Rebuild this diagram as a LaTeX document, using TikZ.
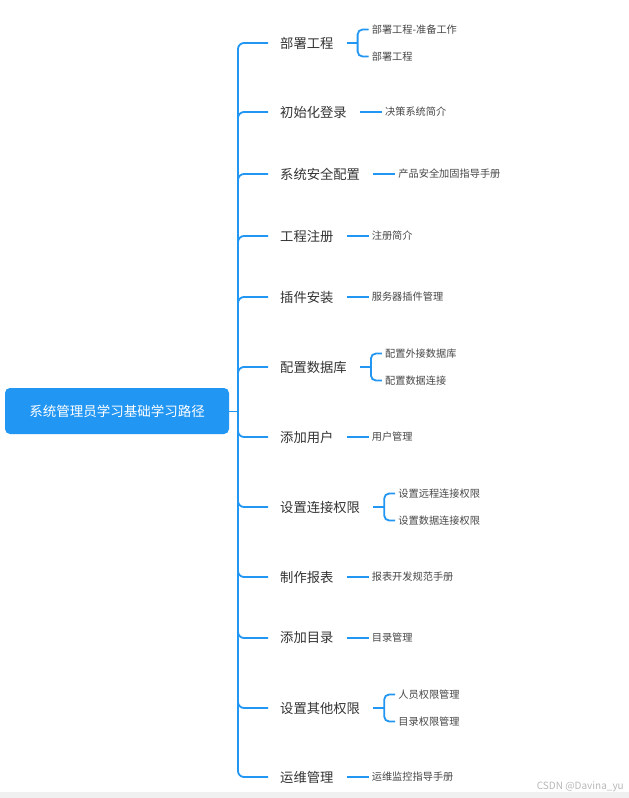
\documentclass[tikz,border=0pt]{standalone}
\usepackage{fontspec}
\newfontfamily\cjk{Noto Sans CJK SC}
\usetikzlibrary{positioning}
\definecolor{mapblue}{RGB}{33,150,243}
\definecolor{mapink}{RGB}{51,51,51}
\tikzset{
  topic/.style={anchor=west, inner sep=0pt, text=mapink, font=\cjk\fontsize{13.3}{16}\selectfont},
  leaf/.style={inner sep=0pt, text=mapink!90, font=\cjk\fontsize{10.2}{12}\selectfont},
  link/.style={draw=mapblue, line width=1.8pt, rounded corners=6pt},
}

\begin{document}
\begin{tikzpicture}[x=1pt, y=-1pt]
  \useasboundingbox (0,0) rectangle (629,798);
  \fill[white] (0,0) rectangle (629,798);
  \fill[black!6] (0,792) rectangle (629,798);
  \node[fill=mapblue, rounded corners=5pt, minimum width=224pt, minimum height=46pt, text=white, font=\cjk\fontsize{13.5}{16}\selectfont] (root) at (117,411) {系统管理员学习基础学习路径};
  \coordinate (hub) at (238,411);
  \draw[mapblue, line width=1pt] (root.east) -- (hub);
  \node[topic] (b1) at (280,43) {部署工程};
  \node[topic] (b2) at (280,112) {初始化登录};
  \node[topic] (b3) at (280,174) {系统安全配置};
  \node[topic] (b4) at (280,236) {工程注册};
  \node[topic] (b5) at (280,297) {插件安装};
  \node[topic] (b6) at (280,367) {配置数据库};
  \node[topic] (b7) at (280,437) {添加用户};
  \node[topic] (b8) at (280,507) {设置连接权限};
  \node[topic] (b9) at (280,577) {制作报表};
  \node[topic] (b10) at (280,638) {添加目录};
  \node[topic] (b11) at (280,708) {设置其他权限};
  \node[topic] (b12) at (280,777) {运维管理};
  \foreach \b in {b1,b2,b3,b4,b5,b6,b7,b8,b9,b10,b11,b12}
    \draw[link] (hub) |- ([xshift=-12pt]\b.west);
  % single leaves
  \foreach \b/\t in {b2/决策系统简介, b3/产品安全加固指导手册, b4/注册简介, b5/服务器插件管理, b7/用户管理, b9/报表开发规范手册, b10/目录管理, b12/运维监控指导手册} {
    \node[leaf, right=38pt of \b] (\b-leaf) {\t};
    \draw[link] ([xshift=13pt]\b.east) -- ([xshift=-3pt]\b-leaf.west);
  }
  % paired leaves
  \foreach \b/\s/\t in {b1/部署工程-准备工作/部署工程, b6/配置外接数据库/配置数据连接, b8/设置远程连接权限/设置数据连接权限, b11/人员权限管理/目录权限管理} {
    \node[leaf, right=38pt of \b, yshift=13.5pt] (\b-up) {\s};
    \node[leaf, right=38pt of \b, yshift=-13.5pt] (\b-dn) {\t};
    \draw[link] ([xshift=13pt]\b.east) -- ++(11,0) coordinate (\b-fork);
    \draw[link, rounded corners=5pt] ([xshift=-3pt]\b-up.west) -| (\b-fork) |- ([xshift=-3pt]\b-dn.west);
  }
  \node[anchor=east, inner sep=0pt, text=black!28, font=\cjk\fontsize{10}{12}\selectfont] (mark) at (624,787) {CSDN @Davina\_yu};
\end{tikzpicture}
\end{document}
